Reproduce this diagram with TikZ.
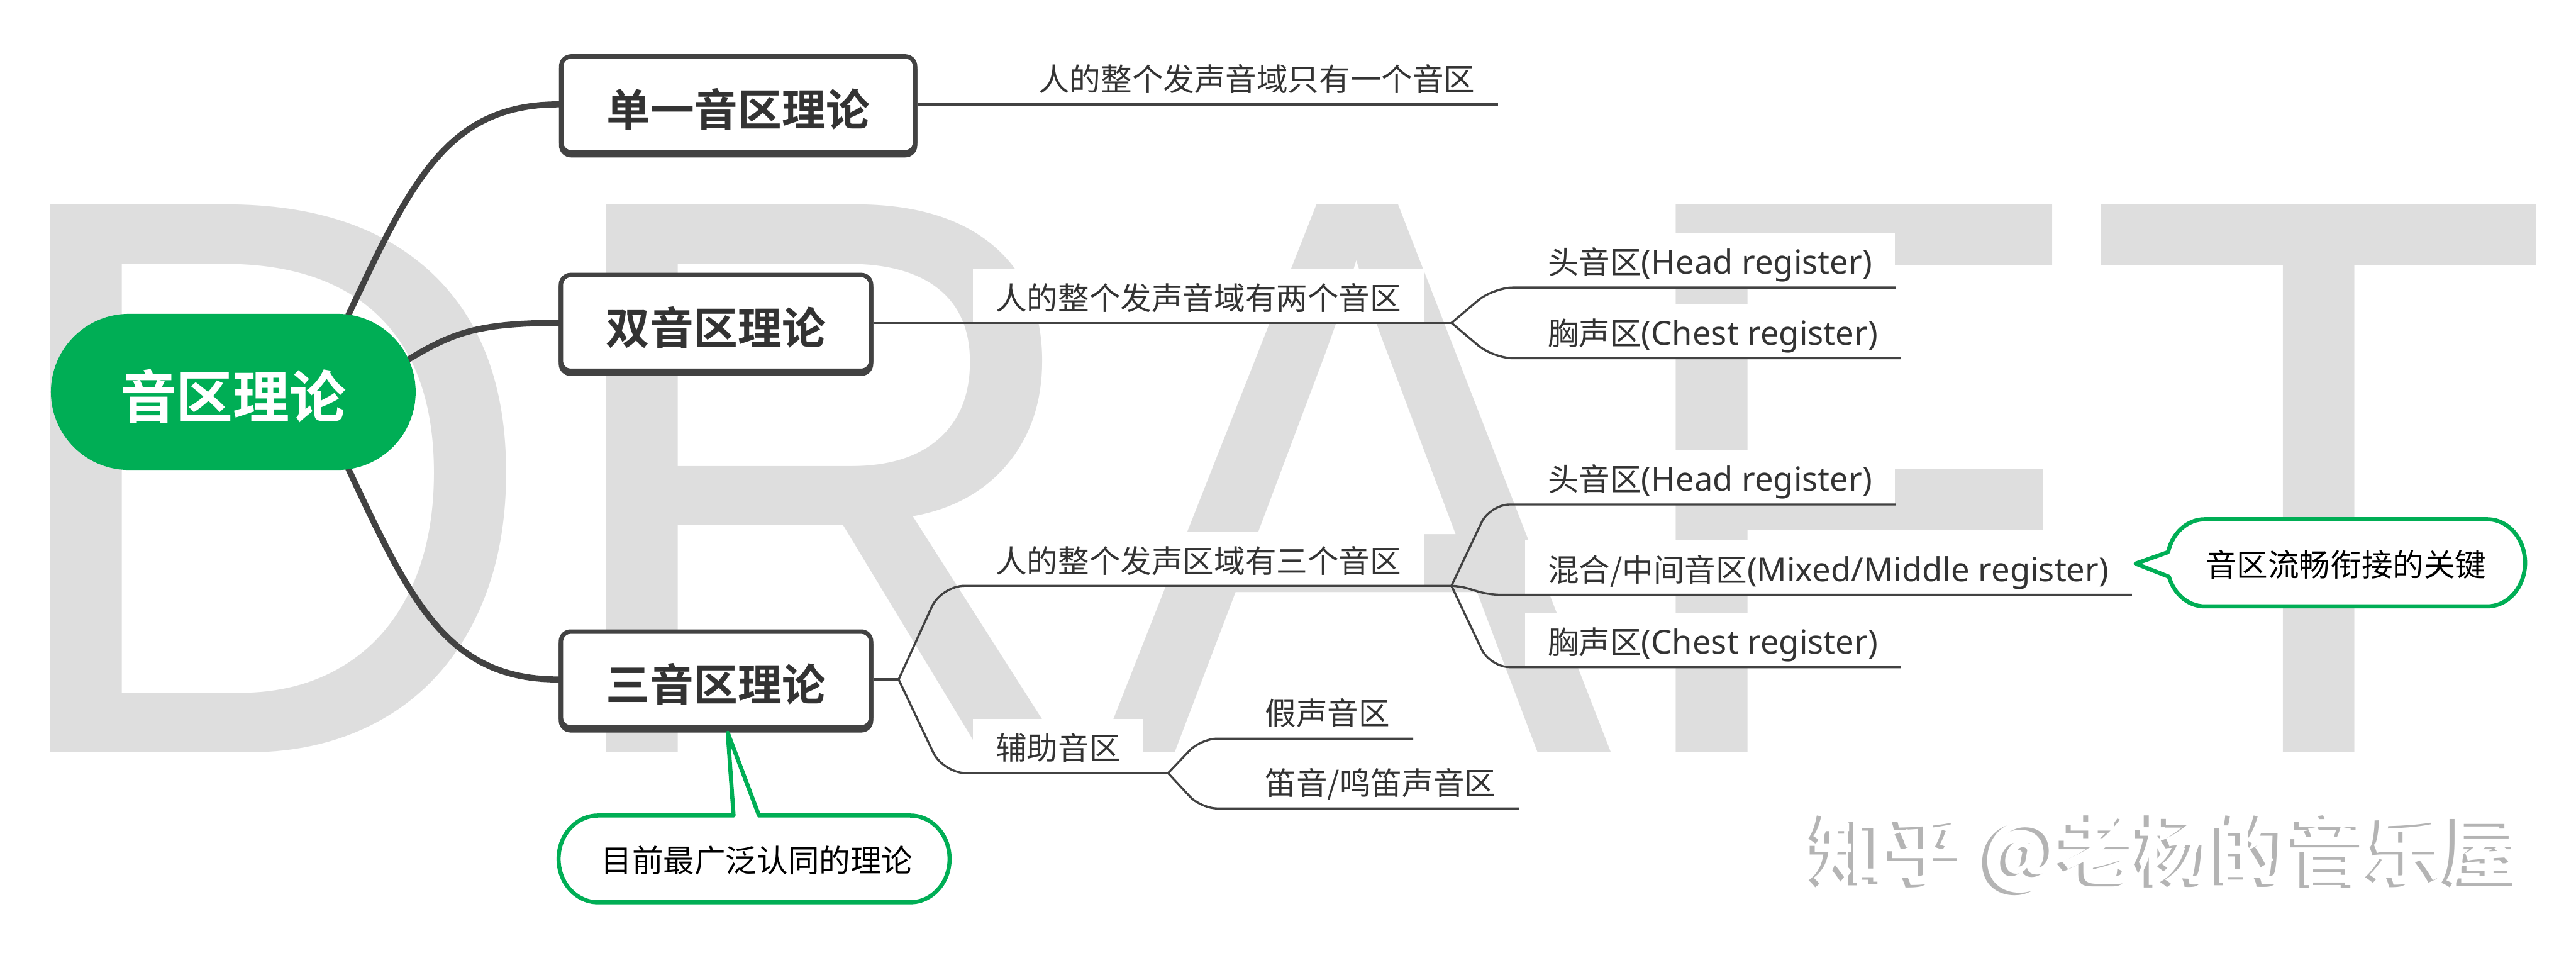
\documentclass[tikz,border=0pt]{standalone}
\usepackage{fontspec}
\usetikzlibrary{calc,shapes.misc,shadows}
\setmainfont{Noto Sans}
\newfontfamily\cjk[BoldFont={Noto Sans CJK SC Bold}]{Noto Sans CJK SC}
\newfontfamily\draftfont[Kerning=Off]{Liberation Sans}
\newdimen\pxu \pxu=0.05cm
\newcommand\latn[1]{{\rmfamily\fontsize{28.6}{30}\selectfont #1}}
\definecolor{mmgreen}{HTML}{00AE55}
\definecolor{lineg}{HTML}{424242}
\definecolor{txt}{HTML}{333333}
\definecolor{draftg}{HTML}{DEDEDE}
\definecolor{wmg}{HTML}{B4B4B4}
\pgfdeclarelayer{bg}
\pgfdeclarelayer{lab}
\pgfdeclarelayer{edge}
\pgfsetlayers{bg,lab,edge,main}
\tikzset{
  lab/.style={anchor=south west, fill=white, text=txt, inner xsep=14\pxu, inner ysep=0pt,
    text height=25\pxu, text depth=8\pxu, font=\cjk\fontsize{27}{30}\selectfont},
  l1box/.style={draw=lineg, line width=2.7\pxu, fill=white, rounded corners=6\pxu,
    minimum height=58.3\pxu, inner sep=0pt, text=txt, text height=29.5\pxu, text depth=3.2\pxu,
    font=\cjk\bfseries\fontsize{38}{40}\selectfont,
    general shadow={draw=lineg, fill=lineg, line width=2.7\pxu, shadow yshift=-1.8\pxu}},
  rootbox/.style={rounded rectangle, fill=mmgreen, minimum width=222\pxu, minimum height=95\pxu,
    inner sep=0pt, text=white, text height=36.2\pxu, text depth=4.1\pxu,
    font=\cjk\bfseries\fontsize{49}{50}\selectfont},
  conn/.style={draw=lineg, line width=3.7\pxu, line cap=round},
  thinc/.style={draw=lineg, line width=1.3\pxu},
  callout/.style={draw=mmgreen, line width=2.5\pxu, fill=white, line join=round},
  ctext/.style={inner sep=0pt, text=black, font=\cjk\fontsize{27}{30}\selectfont},
  wm/.style={anchor=base west, inner sep=0pt, font=\cjk\bfseries\fontsize{66.5}{70}\selectfont}
}
\begin{document}
\begin{tikzpicture}[x=0.05cm,y=-0.05cm]
\useasboundingbox (0,0) rectangle (1568,579.7);
\begin{pgfonlayer}{bg}
  \node[anchor=base west, inner sep=0pt, text=draftg, yscale=1.034, transform shape,
        font=\draftfont\fontsize{667}{667}\selectfont] (draft) at (-8,458) {DRAFT};
  \node[wm, text=wmg] (wm1) at (1100,536) {知乎 @老杨的音乐屋};
  \node[wm, text=white] (wm2) at (1103,534.5) {知乎 @老杨的音乐屋};
\end{pgfonlayer}
\begin{pgfonlayer}{lab}
  \node[lab] (l1) at (618,63.5) {人的整个发声音域只有一个音区};
  \node[lab] (l2) at (592,196.5) {人的整个发声音域有两个音区};
  \node[lab] (l21) at (928,175) {头音区\latn{(Head register)}};
  \node[lab] (l22) at (928,218) {胸声区\latn{(Chest register)}};
  \node[lab] (l3) at (592,356.5) {人的整个发声区域有三个音区};
  \node[lab] (l31) at (928,307) {头音区\latn{(Head register)}};
  \node[lab] (l32) at (928,362) {混合/中间音区\latn{(Mixed/Middle register)}};
  \node[lab] (l33) at (928,406) {胸声区\latn{(Chest register)}};
  \node[lab] (l4) at (592,470.5) {辅助音区};
  \node[lab] (l41) at (756,449.5) {假声音区};
  \node[lab] (l42) at (756,492) {笛音/鸣笛声音区};
\end{pgfonlayer}
\node[rootbox] (root) at (142,238.5) {音区理论};
\node[l1box, minimum width=215.4\pxu] (b1) at (449.3,63.5) {单一音区理论};
\node[l1box, minimum width=188.8\pxu] (b2) at (435.8,196.5) {双音区理论};
\node[l1box, minimum width=188.8\pxu] (b3) at (435.8,413.5) {三音区理论};
\draw[callout] (1342,316) -- (1514,316) arc[start angle=-90,end angle=90,x radius=23,y radius=26.5]
  -- (1342,369) arc[start angle=90,end angle=161.3,x radius=23,y radius=26.5]
  -- (1300,343) -- (1319.7,336) arc[start angle=194.2,end angle=270,x radius=23,y radius=26.5] -- cycle;
\node[ctext] (c1) at (1428,343.5) {音区流畅衔接的关键};
\draw[callout] (446.5,496.3) -- (443,446) -- (462,496.3) -- (554,496.3)
  arc[start angle=-90,end angle=90,x radius=24,y radius=26.4]
  -- (364,549.1) arc[start angle=90,end angle=270,x radius=24,y radius=26.4] -- cycle;
\node[ctext] (c2) at (460.7,523.5) {目前最广泛认同的理论};
\coordinate (f2) at (883.5,196.5);
\coordinate (f3) at (547,413.5);
\coordinate (f31) at (883.5,356.5);
\coordinate (f32) at (711,470.5);
\begin{pgfonlayer}{edge}
  \draw[conn] ($(root.north)+(70,1)$) .. controls (250,111) and (272,63.5) .. (b1.west);
  \draw[conn] ($(root.east)+(-5,-19.5)$) .. controls (275,203) and (290,196.5) .. (b2.west);
  \draw[conn] ($(root.south)+(70,-1)$) .. controls (250,366) and (272,413.5) .. (b3.west);
  \draw[thinc] (b1.east) -- (l1.south east);
  \draw[thinc] (b2.east) -- (f2);
  \draw[thinc, rounded corners=12\pxu] (f2) -- (909,175) -- (l21.south east);
  \draw[thinc, rounded corners=12\pxu] (f2) -- (909,218) -- (l22.south east);
  \draw[thinc] (b3.east) -- (f3);
  \draw[thinc, rounded corners=14\pxu] (f3) -- (573,356.5) -- (f31);
  \draw[thinc, rounded corners=14\pxu] (f3) -- (574,470.5) -- (f32);
  \draw[thinc, rounded corners=12\pxu] (f31) -- (907,307) -- (l31.south east);
  \draw[thinc] (f31) .. controls (896,357) and (899,362) .. (915,362) -- (l32.south east);
  \draw[thinc, rounded corners=12\pxu] (f31) -- (907,406) -- (l33.south east);
  \draw[thinc, rounded corners=10\pxu] (f32) -- (731,449.5) -- (l41.south east);
  \draw[thinc, rounded corners=10\pxu] (f32) -- (731,492) -- (l42.south east);
\end{pgfonlayer}
\end{tikzpicture}
\end{document}
